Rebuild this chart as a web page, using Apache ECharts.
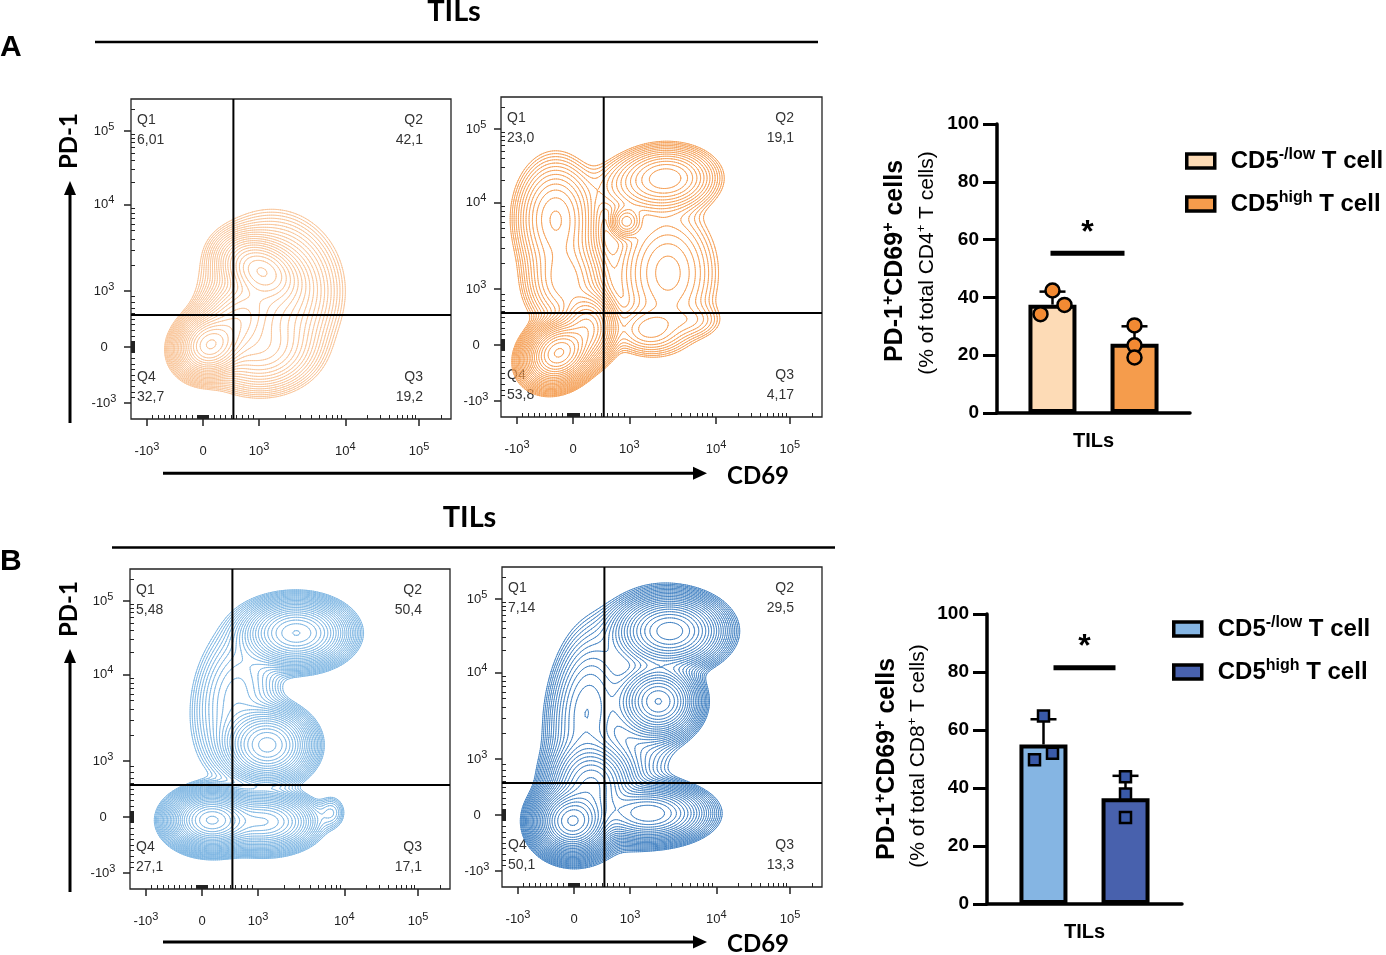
<!DOCTYPE html>
<html>
<head>
<meta charset="utf-8">
<script src="https://cdn.jsdelivr.net/npm/echarts@6.0.0/dist/echarts.min.js"></script>
<style>
html, body { margin: 0; padding: 0; background: #fff; }
#main { width: 1386px; height: 955px; }
</style>
</head>
<body>
<div id="main"></div>
<script>
// ---- flow plots: display channel (0-100) of the labelled decades ----
var tickChannels = [5, 22.5, 40, 67, 90];
var tickLabels = ['-10^3', '0', '10^3', '10^4', '10^5'];
var gateA = [32, 32.5];
var gateB = [32, 32.5];

// quadrant frequencies Q1, Q2, Q3, Q4
var quadA1 = ['6,01', '42,1', '19,2', '32,7'];
var quadA2 = ['23,0', '19,1', '4,17', '53,8'];
var quadB1 = ['5,48', '50,4', '17,1', '27,1'];
var quadB2 = ['7,14', '29,5', '13,3', '50,1'];

// cell populations: [cx, cy, sx, sy, weight, rho] in channels
var popsA1 = [
  [24.5, 23, 4.3, 4.0, 1.0, 0.1],
  [40.5, 46.5, 5.5, 4.5, 0.45, -0.3],
  [44, 40, 9, 10, 0.15, 0],
  [32, 30, 6, 6, 0.35, 0.4],
  [40, 22, 8, 6, 0.15, 0]
];
var popsA2 = [
  [18, 20, 4.5, 4.2, 1.0, 0.2],
  [17, 62, 6, 9, 0.08, 0],
  [20, 42, 6, 7, 0.07, 0],
  [52, 75, 7, 4.5, 0.1, 0],
  [45, 72, 9, 5, 0.03, 0],
  [39, 61, 2.5, 2.5, 0.04, 0],
  [52, 45, 8, 11, 0.035, 0],
  [46, 27, 6, 4, 0.03, 0],
  [60, 30, 5, 3, 0.012, 0],
  [27, 28, 4, 5, 0.25, 0]
];
var popsB1 = [
  [25.5, 21.5, 5.5, 3.8, 1.0, 0],
  [42, 21, 7, 4, 0.3, 0],
  [43, 45, 6, 5, 0.4, 0],
  [52, 80, 7, 4.5, 0.45, 0],
  [33, 60, 7, 12, 0.04, 0.2],
  [63, 24, 2.5, 3, 0.015, 0]
];
var popsB2 = [
  [22, 20.5, 5, 4.5, 1.0, 0],
  [46, 23, 8, 4, 0.3, 0],
  [52.5, 80, 7.5, 5, 0.35, 0],
  [49, 58, 5.5, 5, 0.3, 0],
  [26, 55, 6, 13, 0.06, 0.2],
  [40, 50, 9, 20, 0.02, 0.3],
  [28, 32, 6, 6, 0.3, 0]
];

// ---- bar charts ----
var barCats = ['TILs'];
var groupNames = ['CD5-/low T cell', 'CD5high T cell'];
var meanA = [37.5, 24];
var sdA = [4.5, 6];
var ptsA = [[42.4, 37.4, 34.2], [30.3, 23.4, 19.2]];
var sigA = 55.3;
var meanB = [55, 36.5];
var sdB = [8.7, 7.7];
var ptsB = [[64.8, 52.0, 49.7], [43.9, 37.9, 29.8]];
var sigB = 81.5;

// layout
var flowRects = [[131, 99, 320, 320], [501, 97, 321, 320], [130, 569, 320, 320], [502, 567, 320, 320]];
var flowColors = ['#f8c294', '#f49d52', '#7ab3e2', '#3d7ec1'];
var flowLevels = [24, 24, 28, 28];
var flowYMargin = [27, 25, 27, 25];
var LEVEL_LO = 0.005, LEVEL_HI = 0.95;
var jitterA = [[0, 12, -12], [0, 0, 0]];
var jitterB = [[0, 9, -9], [0, 0, 0]];
var BAR_OFF = [-41, 41];

var NARROW = "'Liberation Sans Narrow', 'Liberation Sans', Arial, sans-serif";
var ARIAL = "'Liberation Sans', Arial, sans-serif";
var LATO = "Lato, 'Liberation Sans', sans-serif";

// minor ticks of the biexponential scale
var minorTicks = [];
(function () {
  for (var v = -900; v <= 900; v += 100) minorTicks.push(22.5 + 17.5 * v / 1000);
  for (var k = 2; k <= 9; k++) minorTicks.push(40 + 27 * Math.log10(k));
  for (k = 2; k <= 9; k++) minorTicks.push(67 + 23 * Math.log10(k));
  minorTicks.push(90 + 23 * Math.log10(2));
  for (v = -100; v <= 100; v += 12.5) minorTicks.push(22.5 + 17.5 * v / 1000);
})();

function density(pops, x, y) {
  var s = 0;
  for (var k = 0; k < pops.length; k++) {
    var p = pops[k], dx = (x - p[0]) / p[2], dy = (y - p[1]) / p[3], r = p[5] || 0;
    s += p[4] * Math.exp(-0.5 * (dx * dx - 2 * r * dx * dy + dy * dy) / (1 - r * r));
  }
  return s;
}

var MS = [null, [[3, 0]], [[0, 1]], [[3, 1]], [[1, 2]], [[3, 0], [1, 2]], [[0, 2]], [[3, 2]],
  [[2, 3]], [[0, 2]], [[0, 1], [2, 3]], [[1, 2]], [[1, 3]], [[0, 1]], [[3, 0]], null];

// marching squares over the density, segments in channel units
function traceLevels(pops, nLevels) {
  var N = 150, st = 100 / N, W = N + 1, z = [], zmax = 0, i, j;
  for (j = 0; j <= N; j++) for (i = 0; i <= N; i++) {
    var v = density(pops, i * st, j * st);
    z.push(v);
    if (v > zmax) zmax = v;
  }
  var out = [];
  for (var l = 0; l < nLevels; l++) {
    var L = zmax * LEVEL_LO * Math.pow(LEVEL_HI / LEVEL_LO, l / (nLevels - 1));
    var segs = [];
    for (j = 0; j < N; j++) for (i = 0; i < N; i++) {
      var a = z[j * W + i], b = z[j * W + i + 1], c = z[(j + 1) * W + i + 1], d = z[(j + 1) * W + i];
      var cs = MS[(a > L ? 1 : 0) | (b > L ? 2 : 0) | (c > L ? 4 : 0) | (d > L ? 8 : 0)];
      if (!cs) continue;
      var x0 = i * st, y0 = j * st;
      var ex = [x0 + st * (L - a) / (b - a), x0 + st, x0 + st * (L - d) / (c - d), x0];
      var ey = [y0, y0 + st * (L - b) / (c - b), y0 + st, y0 + st * (L - a) / (d - a)];
      for (var q = 0; q < cs.length; q++) {
        segs.push(ex[cs[q][0]], ey[cs[q][0]], ex[cs[q][1]], ey[cs[q][1]]);
      }
    }
    out.push(segs);
  }
  return out;
}

function tickRich(s) {
  var p = s.split('^');
  return p.length > 1 ? '{n|' + p[0] + '}{s|' + p[1] + '}' : '{n|' + p[0] + '}';
}
var tickRichStyle = {
  n: { fontSize: 13, fontFamily: ARIAL, color: '#222', lineHeight: 20 },
  s: { fontSize: 11, fontFamily: ARIAL, color: '#222', lineHeight: 8, verticalAlign: 'top' }
};
function tickFmt(v) {
  var best = 0;
  for (var i = 1; i < tickChannels.length; i++) {
    if (Math.abs(tickChannels[i] - v) < Math.abs(tickChannels[best] - v)) best = i;
  }
  return tickRich(tickLabels[best]);
}

var grids = [], xAxes = [], yAxes = [], series = [], graphics = [];

function flowPlot(g, pops, quad, gate) {
  var r = flowRects[g];
  grids.push({ left: r[0], top: r[1], width: r[2], height: r[3], show: true, borderColor: '#222', borderWidth: 1.3, backgroundColor: '#fff' });
  var base = { type: 'value', gridIndex: g, min: 0, max: 100, splitLine: { show: false }, axisLine: { show: false } };
  xAxes.push(Object.assign({}, base, {
    axisTick: { customValues: tickChannels, length: 7, lineStyle: { color: '#222', width: 1.5 } },
    axisLabel: { customValues: tickChannels, formatter: tickFmt, margin: 22, rich: tickRichStyle }
  }));
  xAxes.push(Object.assign({}, base, {
    axisTick: { customValues: minorTicks, length: 4, lineStyle: { color: '#222', width: 1 } },
    axisLabel: { show: false }
  }));
  yAxes.push(Object.assign({}, base, {
    axisTick: { customValues: tickChannels, length: 7, lineStyle: { color: '#222', width: 1.5 } },
    axisLabel: { customValues: tickChannels, formatter: tickFmt, margin: flowYMargin[g], align: 'center', rich: tickRichStyle }
  }));
  yAxes.push(Object.assign({}, base, {
    axisTick: { customValues: minorTicks, length: 4, lineStyle: { color: '#222', width: 1 } },
    axisLabel: { show: false }
  }));
  var levels = traceLevels(pops, flowLevels[g]);
  var color = flowColors[g];
  series.push({
    type: 'custom', xAxisIndex: g * 2, yAxisIndex: g * 2, silent: true, clip: true,
    data: levels.map(function (s, i) { return [i]; }),
    renderItem: function (params, api) {
      var segs = levels[params.dataIndex];
      var o = api.coord([0, 0]), e = api.coord([100, 100]);
      var kx = (e[0] - o[0]) / 100, ky = (e[1] - o[1]) / 100, d = [];
      for (var k = 0; k < segs.length; k += 4) {
        d.push('M' + (o[0] + kx * segs[k]).toFixed(2) + ' ' + (o[1] + ky * segs[k + 1]).toFixed(2) +
          'L' + (o[0] + kx * segs[k + 2]).toFixed(2) + ' ' + (o[1] + ky * segs[k + 3]).toFixed(2));
      }
      return { type: 'path', shape: { pathData: d.join('') }, style: { fill: null, stroke: color, lineWidth: 0.85, lineCap: 'round' } };
    }
  });
  series.push({
    type: 'custom', xAxisIndex: g * 2, yAxisIndex: g * 2, silent: true, z: 5,
    data: [gate],
    renderItem: function (params, api) {
      var v0 = api.coord([api.value(0), 0]), v1 = api.coord([api.value(0), 100]);
      var h0 = api.coord([0, api.value(1)]), h1 = api.coord([100, api.value(1)]);
      return { type: 'group', children: [
        { type: 'line', shape: { x1: v0[0], y1: v0[1], x2: v1[0], y2: v1[1] }, style: { stroke: '#000', lineWidth: 2 } },
        { type: 'line', shape: { x1: h0[0], y1: h0[1], x2: h1[0], y2: h1[1] }, style: { stroke: '#000', lineWidth: 2 } }
      ] };
    }
  });
  var qs = { fontSize: 14, fontFamily: NARROW, fill: '#333', verticalAlign: 'middle' };
  var L = r[0] + 6, R = r[0] + r[2] - 28, T = r[1], B = r[1] + r[3];
  [['Q1', quad[0], L, T + 21, 'left'], ['Q2', quad[1], R, T + 21, 'right'],
   ['Q3', quad[2], R, B - 42, 'right'], ['Q4', quad[3], L, B - 42, 'left']].forEach(function (q) {
    graphics.push({ type: 'text', x: q[2], y: q[3], style: Object.assign({ text: q[0], align: q[4] }, qs) });
    graphics.push({ type: 'text', x: q[2], y: q[3] + 20, style: Object.assign({ text: q[1], align: q[4] }, qs) });
  });
}

flowPlot(0, popsA1, quadA1, gateA);
flowPlot(1, popsA2, quadA2, gateA);
flowPlot(2, popsB1, quadB1, gateB);
flowPlot(3, popsB2, quadB2, gateB);

// ---- bar panels ----
var barRects = [[997, 124, 193, 289], [987, 614, 195, 290]];
var barColors = [['#fddbb6', '#f59c4c'], ['#85b5e3', '#4861ad']];
var pointColors = ['#f28a33', '#3a5aa8'];
var sigSpan = [[-43, 31], [-31, 31]];
var legendPos = [[1180, 142], [1167, 610]];

function barPanel(p, prefix, means, sds, pts, sig, jitter, symbol, symbolSize) {
  var g = 4 + p, r = barRects[p];
  grids.push({ left: r[0], top: r[1], width: r[2], height: r[3] });
  xAxes.push({
    type: 'category', gridIndex: g, data: barCats,
    axisLine: { lineStyle: { color: '#000', width: 3.5 } },
    axisTick: { alignWithLabel: true, length: 9, lineStyle: { color: '#000', width: 3 } },
    axisLabel: { color: '#000', fontSize: 20, fontWeight: 'bold', fontFamily: ARIAL, margin: 18 }
  });
  yAxes.push({
    type: 'value', gridIndex: g, min: 0, max: 100, interval: 20, splitLine: { show: false },
    axisLine: { show: true, lineStyle: { color: '#000', width: 3.5 } },
    axisTick: { show: true, length: 14, lineStyle: { color: '#000', width: 3 } },
    axisLabel: { color: '#000', fontSize: 19, fontWeight: 'bold', fontFamily: ARIAL, margin: 18 }
  });
  var xi = 8 + p, yi = 8 + p;
  var names = [];
  for (var s = 0; s < 2; s++) {
    var nm = prefix + '|' + groupNames[s];
    names.push(nm);
    series.push({
      type: 'bar', name: nm, xAxisIndex: xi, yAxisIndex: yi, data: [means[s]],
      barWidth: 48, barGap: '71%', silent: true,
      itemStyle: { color: barColors[p][s], borderColor: '#000', borderWidth: 4 }
    });
  }
  for (s = 0; s < 2; s++) {
    (function (s) {
      var off = BAR_OFF[s];
      series.push({
        type: 'custom', xAxisIndex: xi, yAxisIndex: yi, silent: true, z: 3,
        data: [[0, means[s], sds[s]]],
        renderItem: function (params, api) {
          var p0 = api.coord([api.value(0), api.value(1)]), p1 = api.coord([api.value(0), api.value(1) + api.value(2)]);
          var x = p0[0] + off, st = { stroke: '#000', lineWidth: 2.5 };
          return { type: 'group', children: [
            { type: 'line', shape: { x1: x, y1: p0[1], x2: x, y2: p1[1] }, style: st },
            { type: 'line', shape: { x1: x - 13, y1: p1[1], x2: x + 13, y2: p1[1] }, style: st }
          ] };
        }
      });
      series.push({
        type: 'scatter', xAxisIndex: xi, yAxisIndex: yi, silent: true, z: 4,
        symbol: symbol, symbolSize: symbolSize,
        itemStyle: { color: pointColors[p], borderColor: '#000', borderWidth: 2.5, opacity: 1 },
        data: pts[s].map(function (v, k) { return { value: [0, v], symbolOffset: [off + jitter[s][k], 0] }; })
      });
    })(s);
  }
  var span = sigSpan[p];
  series.push({
    type: 'custom', xAxisIndex: xi, yAxisIndex: yi, silent: true, z: 3,
    data: [[0, sig]],
    renderItem: function (params, api) {
      var c = api.coord([api.value(0), api.value(1)]);
      return { type: 'group', children: [
        { type: 'line', shape: { x1: c[0] + span[0], y1: c[1], x2: c[0] + span[1], y2: c[1] }, style: { stroke: '#000', lineWidth: 5 } },
        { type: 'text', x: c[0] + (span[0] + span[1]) / 2, y: c[1] - 20, style: { text: '*', fontSize: 32, fontWeight: 'bold', fontFamily: ARIAL, fill: '#000', align: 'center', verticalAlign: 'middle' } }
      ] };
    }
  });
  return {
    data: names, orient: 'vertical', left: legendPos[p][0], top: legendPos[p][1],
    itemWidth: 28, itemHeight: 14, itemGap: 17, icon: 'rect', selectedMode: false,
    itemStyle: { borderColor: '#000', borderWidth: 3.5 },
    formatter: function (n) {
      var t = n.split('|')[1];
      return t.indexOf('-/low') >= 0 ? '{b|CD5}{s|-/low}{b| T cell}' : '{b|CD5}{s|high}{b| T cell}';
    },
    textStyle: {
      padding: [0, 0, 0, 11],
      rich: {
        b: { fontSize: 24, fontWeight: 'bold', fontFamily: ARIAL, color: '#000', lineHeight: 28 },
        s: { fontSize: 16, fontWeight: 'bold', fontFamily: ARIAL, color: '#000', lineHeight: 12, verticalAlign: 'top' }
      }
    }
  };
}

var legends = [
  barPanel(0, 'A', meanA, sdA, ptsA, sigA, jitterA, 'circle', 14),
  barPanel(1, 'B', meanB, sdB, ptsB, sigB, jitterB, 'rect', 11)
];

// ---- figure annotations ----
function txt(x, y, text, font, align, rot) {
  graphics.push({ type: 'text', x: x, y: y, rotation: rot || 0, style: Object.assign({ text: text, align: align || 'center', verticalAlign: 'middle', fill: '#000' }, font) });
}
var bold24 = { fontSize: 24, fontWeight: 'bold', fontFamily: LATO };
txt(454, 11.5, 'TILs', { fontSize: 29, fontWeight: 'bold', fontFamily: LATO });
txt(469.5, 518, 'TILs', { fontSize: 29, fontWeight: 'bold', fontFamily: LATO });
txt(0, 47.5, 'A', { fontSize: 30, fontWeight: 'bold', fontFamily: ARIAL }, 'left');
txt(0, 562, 'B', { fontSize: 30, fontWeight: 'bold', fontFamily: ARIAL }, 'left');
txt(69, 141, 'PD-1', bold24, 'center', Math.PI / 2);
txt(69, 609, 'PD-1', bold24, 'center', Math.PI / 2);
txt(727, 476, 'CD69', bold24, 'left');
txt(727, 944, 'CD69', bold24, 'left');

[[95, 818, 42], [112, 835, 547.5]].forEach(function (l) {
  graphics.push({ type: 'line', shape: { x1: l[0], y1: l[2], x2: l[1], y2: l[2] }, style: { stroke: '#000', lineWidth: 2.5 } });
});
[[423, 181], [892, 649]].forEach(function (a) {
  graphics.push({ type: 'line', shape: { x1: 70, y1: a[0], x2: 70, y2: a[1] + 12 }, style: { stroke: '#000', lineWidth: 3 } });
  graphics.push({ type: 'polygon', shape: { points: [[70, a[1]], [64, a[1] + 14], [76, a[1] + 14]] }, style: { fill: '#000' } });
});
[[473.3], [942]].forEach(function (a) {
  graphics.push({ type: 'line', shape: { x1: 163, y1: a[0], x2: 695, y2: a[0] }, style: { stroke: '#000', lineWidth: 3 } });
  graphics.push({ type: 'polygon', shape: { points: [[707, a[0]], [693, a[0] - 6.5], [693, a[0] + 6.5]] }, style: { fill: '#000' } });
});

var ytitleRich = {
  b: { fontSize: 25, fontWeight: 'bold', fontFamily: ARIAL, color: '#000', lineHeight: 28 },
  bs: { fontSize: 16, fontWeight: 'bold', fontFamily: ARIAL, color: '#000', lineHeight: 12, verticalAlign: 'top' },
  r: { fontSize: 21, fontFamily: ARIAL, color: '#000', lineHeight: 24 },
  rs: { fontSize: 13, fontFamily: ARIAL, color: '#000', lineHeight: 10, verticalAlign: 'top' }
};
function ytitle(x1, y1, x2, y2, cd) {
  graphics.push({ type: 'text', x: x1, y: y1, rotation: Math.PI / 2,
    style: { text: '{b|PD-1}{bs|+}{b|CD69}{bs|+}{b| cells}', rich: ytitleRich, align: 'center', verticalAlign: 'middle' } });
  graphics.push({ type: 'text', x: x2, y: y2, rotation: Math.PI / 2,
    style: { text: '{r|(% of total ' + cd + '}{rs|+}{r| T cells)}', rich: ytitleRich, align: 'center', verticalAlign: 'middle' } });
}
ytitle(895, 261, 927, 263, 'CD4');
ytitle(887, 759, 918, 756, 'CD8');

var chart = echarts.init(document.getElementById('main'));
chart.setOption({
  animation: false,
  backgroundColor: '#fff',
  grid: grids,
  xAxis: xAxes,
  yAxis: yAxes,
  legend: legends,
  series: series,
  graphic: graphics
});
</script>
</body>
</html>
